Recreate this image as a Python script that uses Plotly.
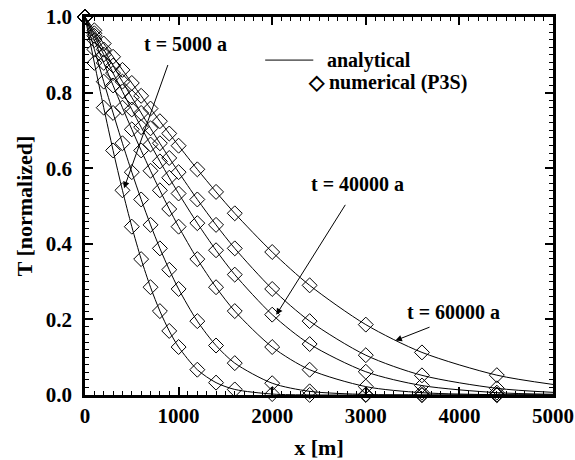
import plotly.graph_objects as go

# numerical grid (m)
x_num = [0, 100, 200, 300, 400, 500, 600, 700, 800, 900, 1000,
         1200, 1400, 1600, 2000, 2400, 3000, 3600, 4400]
times = ["5000", "10000", "20000", "30000", "40000", "60000"]

T_5000 = [1.0, 0.8786, 0.7601, 0.6470, 0.5415, 0.4453, 0.3595, 0.2851, 0.2220, 0.1695, 0.1269,
          0.0669, 0.0327, 0.0147, 0.0025, 0.0002, 0.0, 0.0, 0.0]
T_10000 = [1.0, 0.9141, 0.8290, 0.7462, 0.6660, 0.5895, 0.5173, 0.4501, 0.3879, 0.3315, 0.2805,
           0.1954, 0.1309, 0.0843, 0.0312, 0.0097, 0.0014, 0.0001, 0.0]
T_20000 = [1.0, 0.9391, 0.8786, 0.8189, 0.7601, 0.7028, 0.6470, 0.5932, 0.5415, 0.4921, 0.4453,
           0.3595, 0.2851, 0.2220, 0.1269, 0.0669, 0.0222, 0.0061, 0.0008]
T_30000 = [1.0, 0.9503, 0.9007, 0.8516, 0.8031, 0.7553, 0.7084, 0.6627, 0.6180, 0.5747, 0.5331,
           0.4546, 0.3829, 0.3185, 0.2126, 0.1347, 0.0615, 0.0250, 0.0062]
T_40000 = [1.0, 0.9569, 0.9141, 0.8714, 0.8290, 0.7873, 0.7462, 0.7056, 0.6660, 0.6271, 0.5895,
           0.5173, 0.4501, 0.3879, 0.2805, 0.1954, 0.1053, 0.0520, 0.0177]
T_60000 = [1.0, 0.9648, 0.9298, 0.8948, 0.8601, 0.8255, 0.7915, 0.7578, 0.7243, 0.6918, 0.6595,
           0.5970, 0.5373, 0.4806, 0.3783, 0.2901, 0.1862, 0.1127, 0.0525]

# analytical curves: same grid extended to x = 5000
x_end = 5000
T_end = [0.0, 0.0, 0.0001, 0.0019, 0.0070, 0.0279]

curves = [T_5000, T_10000, T_20000, T_30000, T_40000, T_60000]

FONT = "Times New Roman, Liberation Serif, serif"
fig = go.Figure()

for T, te in zip(curves, T_end):
    fig.add_trace(go.Scatter(
        x=x_num + [x_end], y=T + [te], mode="lines",
        line=dict(color="black", width=1, shape="spline", smoothing=0.8),
        showlegend=False, hoverinfo="skip", cliponaxis=True))

for T in curves:
    fig.add_trace(go.Scatter(
        x=x_num, y=T, mode="markers",
        marker=dict(symbol="diamond-open", size=11.5, color="black", line=dict(width=1, color="black")),
        showlegend=False, cliponaxis=False))

axis_common = dict(
    showline=True, linecolor="black", linewidth=2.5, mirror="allticks",
    ticks="inside", ticklen=8, tickwidth=1.5, tickcolor="black",
    showgrid=False, zeroline=False, automargin=False,
    tickfont=dict(family=FONT, size=21, color="black", weight="bold"),
)

fig.update_xaxes(range=[0, 5000], dtick=1000, tick0=0,
                 minor=dict(dtick=100, ticks="inside", ticklen=4, tickcolor="black", tickwidth=1),
                 title=dict(text="x [m]", font=dict(family=FONT, size=22, color="black", weight="bold"), standoff=14),
                 **axis_common)
fig.update_yaxes(range=[0, 1.0], dtick=0.2, tick0=0, tickformat=".1f",
                 minor=dict(dtick=0.02, ticks="inside", ticklen=4, tickcolor="black", tickwidth=1),
                 title=dict(text="T [normalized]", font=dict(family=FONT, size=22, color="black", weight="bold"), standoff=8),
                 ticklabelstandoff=6,
                 **axis_common)

lab_font = dict(family=FONT, size=20, color="black", weight="bold")
annots = [
    dict(x=1070, y=0.929, text="t = 5000 a", showarrow=False, font=lab_font),
    dict(x=2909, y=0.558, text="t = 40000 a", showarrow=False, font=lab_font),
    dict(x=3936, y=0.220, text="t = 60000 a", showarrow=False, font=lab_font),
    # arrows
    dict(x=417, y=0.547, ax=891, ay=0.877, axref="x", ayref="y", text="", showarrow=True,
         arrowhead=2, arrowsize=1.3, arrowwidth=1, arrowcolor="black"),
    dict(x=2043, y=0.212, ax=2791, ay=0.507, axref="x", ayref="y", text="", showarrow=True,
         arrowhead=2, arrowsize=1.3, arrowwidth=1, arrowcolor="black"),
    dict(x=3316, y=0.144, ax=3697, ay=0.181, axref="x", ayref="y", text="", showarrow=True,
         arrowhead=2, arrowsize=1.3, arrowwidth=1, arrowcolor="black"),
    # legend text
    dict(x=2567, y=0.886, text="analytical", showarrow=False, xanchor="left", font=lab_font),
    dict(x=2364, y=0.828, text="◇ numerical (P3S)", showarrow=False, xanchor="left", font=lab_font),
]
fig.update_layout(annotations=annots)
fig.add_shape(type="line", x0=1925, x1=2439, y0=0.886, y1=0.886, xref="x", yref="y",
              line=dict(color="black", width=1))

fig.update_layout(
    width=575, height=460,
    margin=dict(l=85, r=22, t=17, b=65, autoexpand=False),
    paper_bgcolor="white", plot_bgcolor="white",
    showlegend=False,
)

fig.write_html("out.html")
